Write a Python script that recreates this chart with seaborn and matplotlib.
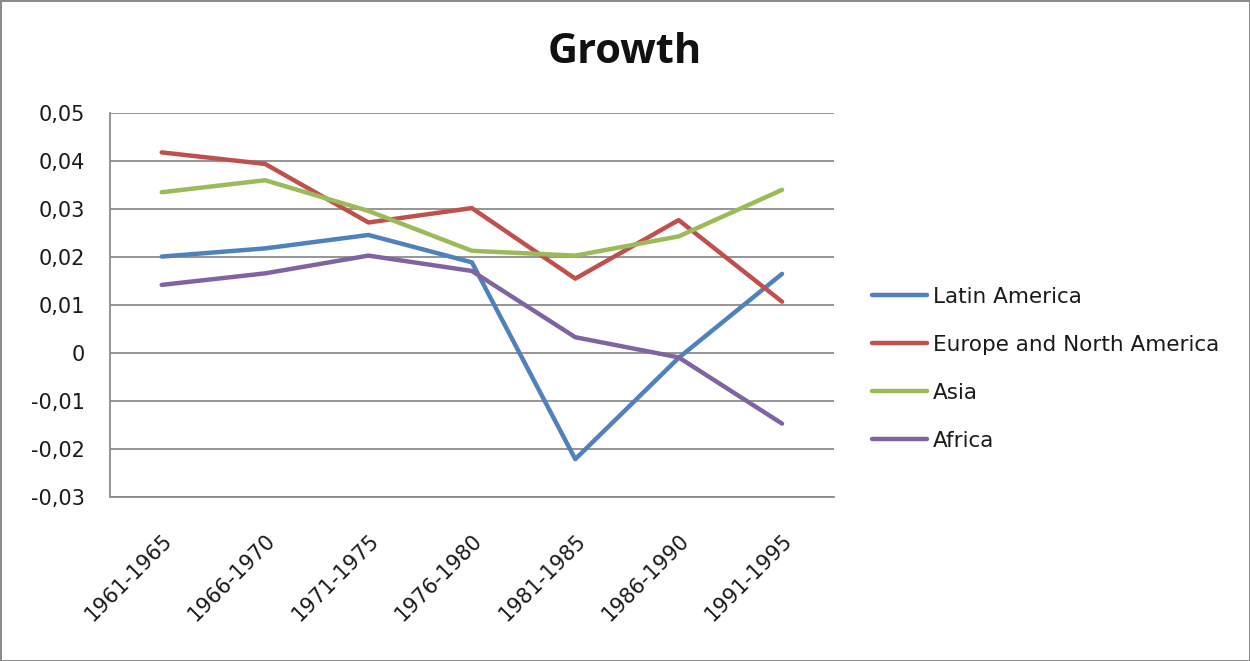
import pandas as pd
import seaborn as sns
import matplotlib.pyplot as plt
from matplotlib.ticker import FuncFormatter, MultipleLocator

periods = ['1961-1965', '1966-1970', '1971-1975', '1976-1980', '1981-1985', '1986-1990', '1991-1995']
latin_america = [0.0201, 0.0218, 0.0246, 0.0189, -0.0221, -0.0010, 0.0165]
europe_na = [0.0418, 0.0394, 0.0272, 0.0302, 0.0155, 0.0277, 0.0107]
asia = [0.0335, 0.0360, 0.0296, 0.0213, 0.0203, 0.0243, 0.0340]
africa = [0.0142, 0.0166, 0.0203, 0.0171, 0.0033, -0.0009, -0.0147]

series = {
    'Latin America': latin_america,
    'Europe and North America': europe_na,
    'Asia': asia,
    'Africa': africa,
}
colors = ['#4F81BD', '#C0504D', '#9BBB59', '#8064A2']

rows = []
for name, vals in series.items():
    for p, v in zip(periods, vals):
        rows.append({'period': p, 'growth': v, 'region': name})
df = pd.DataFrame(rows)

sns.set_style('white')
plt.rcParams['font.family'] = ['DejaVu Sans']

fig = plt.figure(figsize=(12.5, 6.61), dpi=100, edgecolor='#8c8c8c', linewidth=2)
ax = fig.add_axes([0.088, 0.248, 0.579, 0.581])

sns.lineplot(data=df, x='period', y='growth', hue='region', palette=colors,
             linewidth=3.2, sort=False, ax=ax)

ax.set_xlim(-0.5, len(periods) - 0.5)
ax.set_ylim(-0.03, 0.05)
ax.yaxis.set_major_locator(MultipleLocator(0.01))
ax.yaxis.set_major_formatter(FuncFormatter(
    lambda v, _: '0' if abs(v) < 1e-9 else f'{v:.2f}'.replace('.', ',')))
ax.grid(axis='y', color='#8c8c8c', linewidth=1.3)
ax.set_axisbelow(True)
for s in ['top', 'right']:
    ax.spines[s].set_visible(False)
for s in ['left', 'bottom']:
    ax.spines[s].set_color('#8c8c8c')
    ax.spines[s].set_linewidth(1.3)

ax.tick_params(axis='y', labelsize=15, colors='#1a1a1a', length=0, pad=18)
ax.tick_params(axis='x', labelsize=15, colors='#1a1a1a', length=0, pad=24)
plt.setp(ax.get_xticklabels(), rotation=45, ha='right', rotation_mode='anchor')
ax.set_xlabel('')
ax.set_ylabel('')

fig.text(0.5, 0.92, 'Growth', ha='center', va='center', fontsize=30,
         fontweight='bold', family=['Open Sans', 'DejaVu Sans'], color='#111111')

leg = ax.legend(loc='center left', bbox_to_anchor=(0.698, 0.442), bbox_transform=fig.transFigure,
                frameon=False, fontsize=15.5, handlelength=2.55, handletextpad=0.25,
                labelspacing=1.3, borderpad=0, borderaxespad=0)
for line in leg.get_lines():
    line.set_linewidth(3.2)
for t in leg.get_texts():
    t.set_color('#1a1a1a')

fig.savefig('out.png', dpi=100)
